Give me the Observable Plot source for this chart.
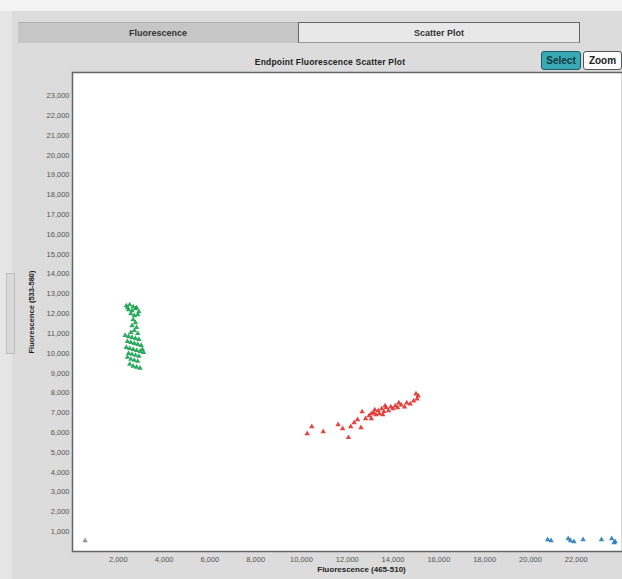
<!DOCTYPE html>
<html>
<head>
<meta charset="utf-8">
<script src="https://cdn.jsdelivr.net/npm/d3@7"></script>
<script src="https://cdn.jsdelivr.net/npm/@observablehq/plot@0.6"></script>
<style>
  html, body { margin: 0; padding: 0; background: #dcdcdc; }
  #wrap { position: relative; width: 622px; height: 579px; overflow: hidden; font-family: "Liberation Sans", Arial, sans-serif; }
  #topband { position: absolute; left: 0; top: 0; width: 622px; height: 11px; background: #f3f3f3; }
  #leftstrip { position: absolute; left: 0; top: 11px; width: 12px; height: 568px; background: #e6e6e6; }
  .scroll { position: absolute; left: 6px; top: 262px; width: 7px; height: 79px; border: 1px solid #bdbdbd; background: #dadada; }
  .tab { position: absolute; top: 22px; height: 21px; box-sizing: border-box; font-size: 9px; font-weight: bold; color: #333; text-align: center; line-height: 20px; }
  #tab1 { left: 18px; width: 280px; background: #c6c6c6; border-top: 1px solid #b0b0b0; }
  #tab2 { left: 298px; width: 282px; background: #e8e8e8; border: 1px solid #666; border-bottom: 1px solid #999; }
  #title { position: absolute; left: 130px; width: 400px; top: 57px; text-align: center; font-size: 8.5px; font-weight: bold; color: #222; letter-spacing: 0.2px; }
  .btn { position: absolute; top: 51px; height: 19px; box-sizing: border-box; font-size: 10px; font-weight: bold; text-align: center; line-height: 17px; border-radius: 3px; }
  #sel { left: 541px; width: 40px; background: #3aa9b4; border: 1px solid #1d5e66; color: #0d3a40; }
  #zoom { left: 583px; width: 39px; background: #fafafa; border: 1px solid #555; color: #222; }
  #chart { position: absolute; left: 0; top: 0; }
</style>
</head>
<body>
<div id="wrap">
  <div id="topband"></div>
  <div id="leftstrip"><div class="scroll"></div></div>
  <div class="tab" id="tab1">Fluorescence</div>
  <div class="tab" id="tab2">Scatter Plot</div>
  <div id="title">Endpoint Fluorescence Scatter Plot</div>
  <div class="btn" id="sel">Select</div>
  <div class="btn" id="zoom">Zoom</div>
  <div id="chart"></div>
</div>
<script>
// Green cluster (x, y)
const greenX = [2350,2500,2650,2800,2450,2600,2750,2900,2550,2700,2850,2400,
  2650,2750,2600,2800,2700,2550,2850,
  2300,2450,2600,2750,2900,2400,2550,2700,2850,3000,2350,2500,2650,2800,2950,3100,2450,2600,2750,2900,3050,2400,2550,2700,2850,
  2500,2650,2800,2950];
const greenY = [12400,12450,12350,12300,12200,12150,12250,12100,12000,11900,11950,12300,
  11700,11550,11400,11300,11150,11050,11000,
  10900,10850,10800,10750,10700,10600,10550,10500,10450,10400,10300,10250,10200,10150,10100,10050,10000,9950,9900,9850,10200,9800,9700,9650,9600,
  9450,9350,9300,9250];
// Red cluster
const redX = [10250,10450,10950,11600,12050,12150,12450,12650,12600,11800,12300,
  12800,12950,13050,13150,13250,13350,13400,13500,13600,13700,13800,13900,14000,14100,14200,14350,14500,14600,14750,14900,15050,15100,15000,13200,13650,14250,13050,13550];
const redY = [5950,6300,6050,6400,5750,6300,6650,7050,6250,6200,6500,
  6700,6850,6700,7000,6900,7100,6950,7200,7050,7250,7100,7300,7200,7350,7250,7400,7300,7500,7450,7600,7700,7850,7950,7150,7350,7500,6950,6900];
// Blue cluster
const blueX = [20750,20900,21650,21750,21900,22300,23100,23550,23700,23650];
const blueY = [600,550,650,550,500,600,600,650,500,450];
// Grey point
const greyX = [550];
const greyY = [550];

const xTicks = [2000,4000,6000,8000,10000,12000,14000,16000,18000,20000,22000];
const yTicks = d3.range(1000, 24000, 1000);
const xLabel = "Fluorescence (465-510)";
const yLabel = "Fluorescence (533-580)";

const toPts = (xs, ys, group) => xs.map((x, i) => ({x, y: ys[i], group}));
const data = [
  ...toPts(greenX, greenY, "green"),
  ...toPts(redX, redY, "red"),
  ...toPts(blueX, blueY, "blue"),
  ...toPts(greyX, greyY, "grey")
];
const colors = {green: "#17a24f", red: "#e0302a", blue: "#2a7ab8", grey: "#888888"};
const fmt = d3.format(",");

const chart = Plot.plot({
  width: 622,
  height: 579,
  marginLeft: 72,
  marginRight: 0,
  marginTop: 72,
  marginBottom: 28,
  style: {background: "transparent", fontFamily: "Liberation Sans, Arial, sans-serif"},
  x: {domain: [0, 24020]},
  y: {domain: [0, 24170]},
  marks: [
    Plot.frame({fill: "white", stroke: null}),
    Plot.axisY({ticks: yTicks, tickFormat: fmt, tickSize: 0, tickPadding: 3, fontSize: 7.5, color: "#555", label: null}),
    Plot.axisX({ticks: xTicks, tickFormat: fmt, tickSize: 0, tickPadding: 5, fontSize: 7.5, color: "#555", label: null}),
    Plot.dot(data, {x: "x", y: "y", symbol: "triangle", r: 2, fill: d => colors[d.group], stroke: null, fillOpacity: 0.9}),
    Plot.frame({stroke: "#666", strokeWidth: 1.5}),
    Plot.text([xLabel], {frameAnchor: "bottom", dx: 14, dy: 20, fontSize: 8, fontWeight: "bold", fill: "#222"}),
    Plot.text([yLabel], {frameAnchor: "left", textAnchor: "middle", dx: -41, rotate: -90, fontSize: 7.5, fontWeight: "bold", fill: "#222"})
  ]
});
document.getElementById("chart").appendChild(chart);
</script>
</body>
</html>
